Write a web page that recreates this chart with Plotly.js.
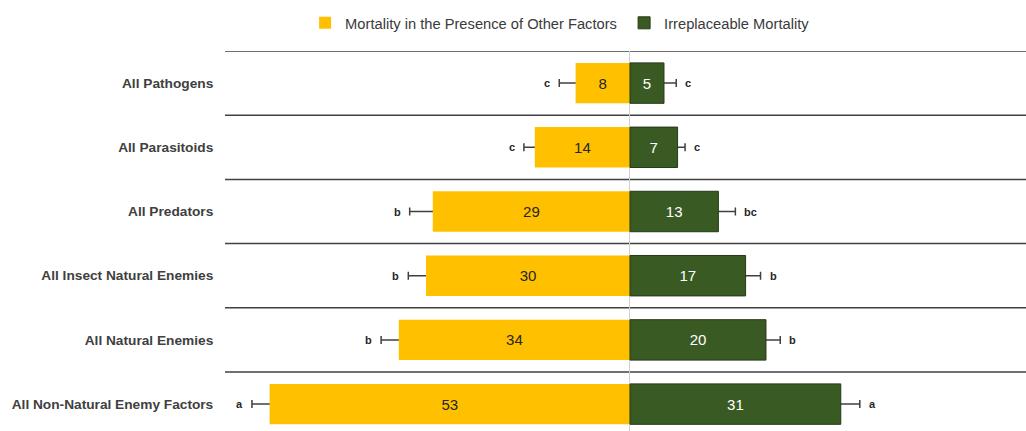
<!DOCTYPE html>
<html>
<head>
<meta charset="utf-8">
<script src="https://cdn.plot.ly/plotly-3.0.1.min.js"></script>
<style>html,body{margin:0;padding:0;background:#fff;}#chart{width:1026px;height:431px;}</style>
</head>
<body>
<div id="chart"></div>
<script>
const categories = ["All Pathogens", "All Parasitoids", "All Predators", "All Insect Natural Enemies", "All Natural Enemies", "All Non-Natural Enemy Factors"];
const otherFactors = [8, 14, 29, 30, 34, 53];
const otherErr = [2.4, 1.6, 3.4, 2.6, 2.6, 2.6];
const otherLetters = ["c", "c", "b", "b", "b", "a"];
const irreplaceable = [5, 7, 13, 17, 20, 31];
const irrErr = [1.8, 1.1, 2.5, 2.2, 2.1, 2.8];
const irrLetters = ["c", "c", "bc", "b", "b", "a"];
const seriesNames = ["Mortality in the Presence of Other Factors", "Irreplaceable Mortality"];

const YELLOW = "#FFC000", GREEN = "#3A5A23", GREEN_LINE = "#26391a";
const otherNeg = otherFactors.map(v => -v);

const errStyle = {type: "data", symmetric: true, color: "#404040", thickness: 1.5, width: 4};

const traces = [
  // error-bar carriers drawn first so the bars cover their inner halves
  {type: "bar", orientation: "h", y: categories, x: otherNeg, width: 0.63,
   marker: {color: "rgba(0,0,0,0)"}, showlegend: false, hoverinfo: "skip",
   error_x: Object.assign({array: otherErr}, errStyle)},
  {type: "bar", orientation: "h", y: categories, x: irreplaceable, width: 0.63,
   marker: {color: "rgba(0,0,0,0)"}, showlegend: false, hoverinfo: "skip",
   error_x: Object.assign({array: irrErr}, errStyle)},
  {type: "bar", orientation: "h", name: seriesNames[0], y: categories, x: otherNeg, width: 0.63,
   marker: {color: YELLOW, line: {width: 0}},
   text: otherFactors.map(String), textposition: "inside", insidetextanchor: "middle",
   constraintext: "none", textangle: 0,
   textfont: {family: "Liberation Sans, Arial, sans-serif", size: 15, color: "#262626"}},
  {type: "bar", orientation: "h", name: seriesNames[1], y: categories, x: irreplaceable, width: 0.63,
   marker: {color: GREEN, line: {width: 1, color: GREEN_LINE}},
   text: irreplaceable.map(String), textposition: "inside", insidetextanchor: "middle",
   constraintext: "none", textangle: 0,
   textfont: {family: "Liberation Sans, Arial, sans-serif", size: 15, color: "#ffffff"}}
];

const annotations = [];
categories.forEach((c, i) => {
  annotations.push({x: -(otherFactors[i] + otherErr[i]), y: c, xref: "x", yref: "y",
    text: "<b>" + otherLetters[i] + "</b>", showarrow: false, xanchor: "right", xshift: -7,
    font: {family: "Liberation Sans, Arial, sans-serif", size: 11, color: "#262626"}});
  annotations.push({x: irreplaceable[i] + irrErr[i], y: c, xref: "x", yref: "y",
    text: "<b>" + irrLetters[i] + "</b>", showarrow: false, xanchor: "left", xshift: 7,
    font: {family: "Liberation Sans, Arial, sans-serif", size: 11, color: "#262626"}});
});

const shapes = categories.map((c, i) => ({
  type: "line", xref: "paper", yref: "y", x0: 0, x1: 1, y0: i - 0.5, y1: i - 0.5,
  line: {color: "#404040", width: 1.5}, layer: "below"
}));

const layout = {
  width: 1026, height: 431,
  margin: {l: 225, r: 0, t: 51, b: 0, pad: 0, autoexpand: false},
  paper_bgcolor: "#ffffff", plot_bgcolor: "#ffffff",
  barmode: "overlay",
  showlegend: true,
  legend: {orientation: "h", x: 0.1, xanchor: "left", y: 1.073, yanchor: "middle",
    entrywidth: 274, entrywidthmode: "pixels",
    font: {family: "Liberation Sans, Arial, sans-serif", size: 14.7, color: "#3a3a3a"},
    traceorder: "normal", bgcolor: "rgba(0,0,0,0)"},
  xaxis: {range: [-59.56, 58.24], showticklabels: false, showgrid: false, ticks: "",
    zeroline: true, zerolinecolor: "#d0d0d0", zerolinewidth: 1, fixedrange: true},
  yaxis: {type: "category", range: [5.419, -0.5], showgrid: false, zeroline: false,
    ticks: "outside", ticklen: 8, tickcolor: "rgba(0,0,0,0)",
    tickfont: {family: "Liberation Sans, Arial, sans-serif", size: 13.7, color: "#404040", weight: "bold"},
    fixedrange: true},
  annotations: annotations,
  shapes: shapes,
  font: {family: "Liberation Sans, Arial, sans-serif"}
};

Plotly.newPlot("chart", traces, layout, {displayModeBar: false, staticPlot: true});
</script>
</body>
</html>
